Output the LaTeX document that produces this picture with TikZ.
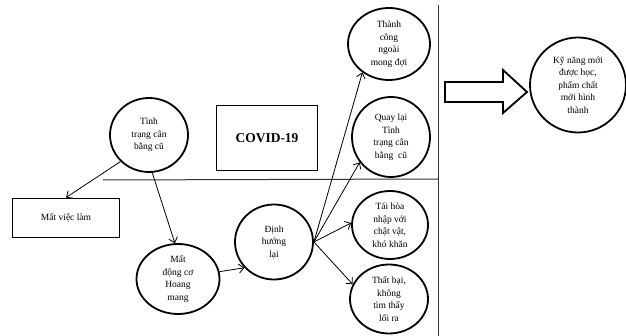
\documentclass[tikz,border=0pt]{standalone}
\usepackage{fontspec}
\setmainfont{Liberation Serif}
\usetikzlibrary{positioning}
\usetikzlibrary{backgrounds}
\usetikzlibrary{shapes.geometric}
\usetikzlibrary{arrows.meta}

\begin{document}
\begin{tikzpicture}[x=1pt,y=-1pt,
		bubble/.style={draw,ellipse,line width=1.8pt,inner sep=0pt,align=center,font=\fontsize{9.5}{12.5}\selectfont},
		frame/.style={draw,rectangle,line width=1.9pt,align=center},
		link/.style={black,line width=0.8pt,-{Straight Barb[length=5pt,width=9pt]}},
		divider/.style={draw=black!80,line width=1pt}]
		\useasboundingbox (0,0) rectangle (626,336);

		% left part
		\node[bubble,minimum width=78pt,minimum height=74pt] at (149,135) (old)
		{Tình\\trạng cân\\bằng cũ};

		\node[frame,minimum width=107pt,minimum height=39pt,font=\fontsize{9.5}{12}\selectfont] at (66,218) (job)
		{Mất việc làm};

		\node[frame,minimum width=101pt,minimum height=65pt,font=\fontsize{13.5}{16}\selectfont\bfseries] at (267,138) (covid)
		{COVID-19};

		\node[bubble,minimum width=83pt,minimum height=70pt] at (178,279) (motive)
		{Mất\\động cơ\\Hoang\\mang};

		\node[bubble,minimum width=78pt,minimum height=75pt] at (274,242) (reorient)
		{Định\\hướng\\lại};

		% outcomes
		\node[bubble,minimum width=82pt,minimum height=72pt] at (389,44) (success)
		{Thành\\công\\ngoài\\mong đợi};

		\node[bubble,minimum width=78pt,minimum height=80pt] at (391,137) (back)
		{Quay lại\\Tình\\trạng cân\\bằng~~cũ};

		\node[bubble,minimum width=76pt,minimum height=68pt] at (390,225) (reint)
		{Tái hòa\\nhập với\\chật vật,\\khó khăn};

		\node[bubble,minimum width=78pt,minimum height=69pt] at (389,299) (fail)
		{Thất bại,\\không\\tìm thấy\\lối ra};

		\node[bubble,minimum width=96pt,minimum height=95pt] at (578,85) (skills)
		{Kỹ năng mới\\được học,\\phẩm chất\\mới hình\\thành};

		% big arrow
		\draw[line width=1.8pt,line join=miter] (445,82) -- (503,82) -- (503,70) -- (527,92)
			-- (503,113) -- (503,102) -- (445,102) -- cycle;

		\coordinate (hl) at (103,180);
		\coordinate (hr) at (438,179);
		\coordinate (vt) at (438,5);
		\coordinate (vb) at (438,336);

		\begin{scope}[on background layer]
			\draw[divider] (hl) -- (hr);
			\draw[divider] (vt) -- (vb);
		\end{scope}

		\draw[link] (old.223) -- (job.north);
		\draw[link] (old.275) -- (motive.95);
		\draw[link] (motive.10) -- (reorient.221);
		\draw[link] (reorient.east) -- (success.227);
		\draw[link] (reorient.east) -- (back.219);
		\draw[link] (reorient.east) -- (reint.177);
		\draw[link] (reorient.east) -- (fail.158);
	\end{tikzpicture}
\end{document}
